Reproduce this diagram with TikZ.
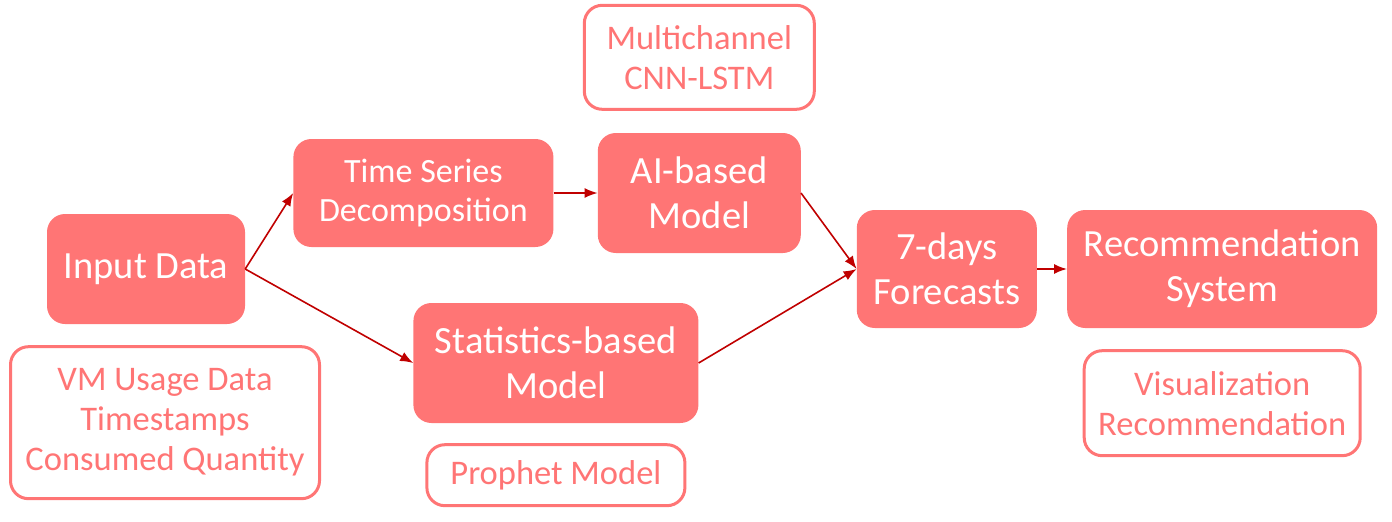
\documentclass[tikz,border=0pt]{standalone}
\usepackage{fontspec}
\setmainfont{Carlito}
\usetikzlibrary{positioning,arrows.meta}
\definecolor{salmon}{HTML}{FF7575}
\definecolor{arrowred}{HTML}{C00000}

\begin{document}
\begin{tikzpicture}[x=1pt,y=1pt,
	stage/.style={fill=salmon, text=white, rounded corners=18pt, align=center, inner sep=0pt, font=\fontsize{38.5}{45}\selectfont},
	note/.style={draw=salmon, line width=3pt, fill=white, text=salmon, rounded corners=18pt, align=center, inner sep=0pt, font=\fontsize{34.5}{40}\selectfont},
	flow/.style={-{Latex[length=13pt,width=10pt]}, draw=arrowred, line width=1.6pt}]
	\useasboundingbox (0,0) rectangle (1392,-522);
	
	\node [stage, minimum width=198pt, minimum height=110pt] (input) at (146,-269) {Input Data};
	\node [stage, minimum width=260pt, minimum height=108pt, font=\fontsize{34}{39}\selectfont, right=48pt of input, yshift=76pt] (tsd) {Time Series\\Decomposition};
	\node [stage, minimum width=203pt, minimum height=120pt, right=44pt of tsd] (ai) {AI-based\\Model};
	\node [note, minimum width=230pt, minimum height=104pt, above=22pt of ai] (cnn) {Multichannel\\CNN-LSTM};
	\node [stage, minimum width=285pt, minimum height=120pt, right=168pt of input, yshift=-94pt] (stat) {Statistics-based\\Model};
	\node [note, minimum width=258pt, minimum height=61pt, below=20pt of stat] (prophet) {Prophet Model};
	\node [note, minimum width=309pt, minimum height=152pt, below=21pt of input, xshift=19pt] (vm) {VM Usage Data\\Timestamps\\Consumed Quantity};
	\node [stage, minimum width=180pt, minimum height=118pt, right=158pt of stat, yshift=94pt] (fc) {7-days\\Forecasts};
	\node [stage, minimum width=310pt, minimum height=118pt, right=30pt of fc] (rec) {Recommendation\\System};
	\node [note, minimum width=276pt, minimum height=105pt, below=21pt of rec] (vis) {Visualization\\Recommendation};
	
	\draw [flow] (input.east) -- (tsd.west);
	\draw [flow] (input.east) -- (stat.west);
	\draw [flow] (tsd.east) -- (ai.west);
	\draw [flow] (ai.east) -- (fc.west);
	\draw [flow] (stat.east) -- (fc.west);
	\draw [flow] (fc.east) -- (rec.west);
\end{tikzpicture}
\end{document}
